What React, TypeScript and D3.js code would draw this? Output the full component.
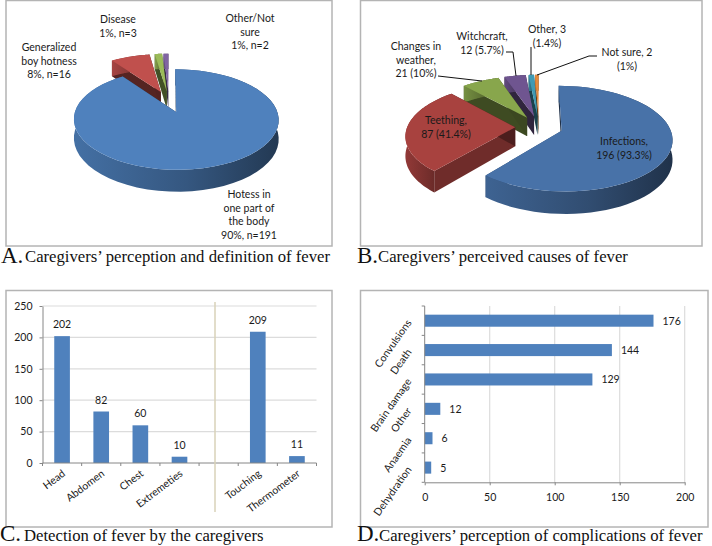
import { useRef, useEffect } from 'react';
import * as d3 from 'd3';

const WIDTH = 712;
const HEIGHT = 546;
const LABEL_FONT = 'Lato, sans-serif';
const LABEL_SIZE = 10.5;
const CAPTION_FONT = '"Liberation Serif", serif';

// Panel A
const definitionValues = [191, 16, 3, 2];
const definitionColors = ['#4f81bd', '#c0504d', '#9bbb59', '#8064a2'];
const definitionLabels = [
  { lines: ['Hotess in', 'one part of', 'the body', '90%, n=191'], x: 249, y: 194 },
  { lines: ['Generalized', 'boy hotness', '8%, n=16'], x: 49, y: 47 },
  { lines: ['Disease', '1%, n=3'], x: 118, y: 19 },
  { lines: ['Other/Not', 'sure', '1%, n=2'], x: 250, y: 18 },
];

// Panel B
const causeValues = [196, 87, 21, 12, 3, 2];
const causeColors = ['#4872a8', '#a8423f', '#88a64c', '#6f5590', '#3f9ab3', '#e48a3c'];
const causeLabels = [
  { lines: ['Infections,', '196 (93.3%)'], x: 624, y: 141 },
  { lines: ['Teething,', '87 (41.4%)'], x: 446, y: 120 },
  { lines: ['Changes in', 'weather,', '21 (10%)'], x: 416, y: 46 },
  { lines: ['Witchcraft,', '12 (5.7%)'], x: 482, y: 36 },
  { lines: ['Other, 3', '(1.4%)'], x: 547, y: 29 },
  { lines: ['Not sure, 2', '(1%)'], x: 627, y: 52 },
];
const causeLeaders = [
  [[438, 76], [482, 81]],
  [[506, 52], [513, 52], [516, 76]],
  [[531, 47], [531, 75]],
  [[597, 56], [589, 56], [537, 75]],
];

// Panel C
const detectionCategories = ['Head', 'Abdomen', 'Chest', 'Extremeties', '', 'Touching', 'Thermometer'];
const detectionValues = [202, 82, 60, 10, null, 209, 11];
const detectionTicks = [0, 50, 100, 150, 200, 250];

// Panel D
const complicationCategories = ['Convulsions', 'Death', 'Brain damage', 'Other', 'Anaemia', 'Dehydration'];
const complicationValues = [176, 144, 129, 12, 6, 5];
const complicationTicks = [0, 50, 100, 150, 200];

const frames = [
  { x: 6, y: 0.5, w: 326, h: 245.5 },
  { x: 360.5, y: 0.5, w: 341.5, h: 245.5 },
  { x: 6, y: 290.5, w: 326, h: 236.5 },
  { x: 360.5, y: 290.5, w: 347.5, h: 236.5 },
];

const captions = [
  { letter: 'A.', text: 'Caregivers’ perception and definition of fever', lx: 1, tx: 25, y: 263 },
  { letter: 'B.', text: 'Caregivers’ perceived causes of fever', lx: 357, tx: 378, y: 263 },
  { letter: 'C.', text: 'Detection of fever by the caregivers', lx: 0, tx: 24, y: 541 },
  { letter: 'D.', text: 'Caregivers’ perception of complications of fever', lx: 357, tx: 379, y: 541 },
];

function drawPie(svg, id, values, colors, geo) {
  const { cx, cy, rx, ry, depth, p, explode } = geo;
  const project = (X, Y, z) => {
    const w = 1 / (1 + p * Y);
    return [cx + X * w * rx, cy - Y * w * ry + z * w * depth];
  };
  const slices = d3.pie().sort(null)(values);
  const line = d3.line();
  const defs = svg.append('defs');

  // back slices first, the big front one on top
  slices.slice().reverse().forEach(s => {
    const i = s.index;
    const mid = (s.startAngle + s.endAngle) / 2;
    const ox = Math.sin(mid) * explode;
    const oy = Math.cos(mid) * explode;
    const rim = (a, z) => project(ox + Math.sin(a), oy + Math.cos(a), z);
    const arcAngles = d3.range(0, 61).map(k => s.startAngle + (s.endAngle - s.startAngle) * k / 60);
    const apex = z => project(ox, oy, z);
    const base = d3.color(colors[i]);

    // cut faces, the ones turned to the viewer are lighter
    [s.startAngle, s.endAngle].forEach(a => {
      svg.append('path')
        .attr('d', line([apex(0), rim(a, 0), rim(a, 1), apex(1)]) + 'Z')
        .attr('fill', base.darker(1.7 + 0.7 * Math.cos(a)).formatHex());
    });

    // outer wall, shaded left to right
    const top = arcAngles.map(a => rim(a, 0));
    const bottom = arcAngles.map(a => rim(a, 1)).reverse();
    const [x0, x1] = d3.extent(top, d => d[0]);
    const gradId = `${id}-wall-${i}`;
    const grad = defs.append('linearGradient').attr('id', gradId)
      .attr('gradientUnits', 'userSpaceOnUse')
      .attr('x1', x0).attr('x2', x1).attr('y1', 0).attr('y2', 0);
    grad.append('stop').attr('offset', 0).attr('stop-color', base.darker(0.4).formatHex());
    grad.append('stop').attr('offset', 0.55).attr('stop-color', base.darker(1.1).formatHex());
    grad.append('stop').attr('offset', 1).attr('stop-color', base.darker(2.3).formatHex());
    svg.append('path')
      .attr('d', line([...top, ...bottom]) + 'Z')
      .attr('fill', `url(#${gradId})`);

    // top face
    svg.append('path')
      .attr('d', line([apex(0), ...top]) + 'Z')
      .attr('fill', colors[i]);
  });
}

function drawLabel(svg, label) {
  const text = svg.append('text')
    .attr('text-anchor', 'middle')
    .attr('font-family', LABEL_FONT)
    .attr('font-size', LABEL_SIZE)
    .attr('fill', '#1a1a1a');
  label.lines.forEach((l, i) => {
    text.append('tspan')
      .attr('x', label.x)
      .attr('y', label.y + 4 + i * 13.6)
      .text(l);
  });
}

function styleAxis(g) {
  g.selectAll('path').attr('stroke', '#868686').attr('stroke-width', 1);
  g.selectAll('line').attr('stroke', '#868686');
  g.selectAll('text')
    .attr('font-family', LABEL_FONT)
    .attr('font-size', LABEL_SIZE)
    .attr('fill', '#1a1a1a');
}

function drawDetection(svg) {
  const x = d3.scaleBand().domain(detectionCategories).range([42.5, 316.5]).paddingInner(0.6).paddingOuter(0.3);
  const y = d3.scaleLinear().domain([0, 250]).range([463, 306]);
  const step = x.step();

  svg.append('g').selectAll('line').data(detectionTicks.slice(1)).join('line')
    .attr('x1', 42.5).attr('x2', 316.5)
    .attr('y1', d => y(d)).attr('y2', d => y(d))
    .attr('stroke', '#dcdcdc').attr('stroke-width', 1.2);

  const rows = detectionCategories
    .map((c, i) => ({ c, v: detectionValues[i] }))
    .filter(d => d.v != null);

  svg.append('g').selectAll('rect').data(rows).join('rect')
    .attr('x', d => x(d.c)).attr('y', d => y(d.v))
    .attr('width', x.bandwidth()).attr('height', d => y(0) - y(d.v))
    .attr('fill', '#4f81bd');

  svg.append('g').selectAll('text').data(rows).join('text')
    .attr('x', d => x(d.c) + x.bandwidth() / 2).attr('y', d => y(d.v) - 8)
    .attr('text-anchor', 'middle')
    .attr('font-family', LABEL_FONT).attr('font-size', LABEL_SIZE).attr('fill', '#1a1a1a')
    .text(d => d.v);

  const yAxis = svg.append('g').attr('transform', 'translate(42.5,0)')
    .call(d3.axisLeft(y).tickValues(detectionTicks).tickSize(3).tickPadding(7).tickSizeOuter(0));
  styleAxis(yAxis);

  // category ticks sit between the bars
  const xAxisLine = svg.append('g');
  xAxisLine.append('line').attr('x1', 42.5).attr('x2', 316.5).attr('y1', 463).attr('y2', 463)
    .attr('stroke', '#868686');
  xAxisLine.selectAll('.tick').data(d3.range(detectionCategories.length + 1)).join('line')
    .attr('class', 'tick')
    .attr('x1', i => 42.5 + i * step).attr('x2', i => 42.5 + i * step)
    .attr('y1', 463).attr('y2', 466)
    .attr('stroke', '#868686');

  svg.append('g').selectAll('text').data(detectionCategories.filter(Boolean)).join('text')
    .attr('transform', d => `translate(${x(d) + x.bandwidth() / 2 + 4},${475}) rotate(-37)`)
    .attr('text-anchor', 'end')
    .attr('font-family', LABEL_FONT).attr('font-size', LABEL_SIZE).attr('fill', '#1a1a1a')
    .text(d => d);

  const divider = 215;
  svg.append('line').attr('x1', divider).attr('x2', divider).attr('y1', 302).attr('y2', 512)
    .attr('stroke', '#d8d2b8').attr('stroke-width', 1.5);
}

function drawComplications(svg) {
  const x = d3.scaleLinear().domain([0, 200]).range([424.7, 684.7]);
  const y = d3.scaleBand().domain(complicationCategories).range([306, 482.3]).paddingInner(0.59).paddingOuter(0.295);
  const step = y.step();

  svg.append('g').selectAll('line').data(complicationTicks.slice(1)).join('line')
    .attr('x1', d => x(d)).attr('x2', d => x(d))
    .attr('y1', 306).attr('y2', 482.3)
    .attr('stroke', '#dcdcdc').attr('stroke-width', 1.2);

  svg.append('g').selectAll('rect').data(complicationValues).join('rect')
    .attr('x', x(0)).attr('y', (d, i) => y(complicationCategories[i]))
    .attr('width', d => x(d) - x(0)).attr('height', y.bandwidth())
    .attr('fill', '#4f81bd');

  svg.append('g').selectAll('text').data(complicationValues).join('text')
    .attr('x', d => x(d) + 9)
    .attr('y', (d, i) => y(complicationCategories[i]) + y.bandwidth() / 2 + 4)
    .attr('font-family', LABEL_FONT).attr('font-size', LABEL_SIZE).attr('fill', '#1a1a1a')
    .text(d => d);

  const xAxis = svg.append('g').attr('transform', 'translate(0,482.3)')
    .call(d3.axisBottom(x).tickValues(complicationTicks).tickSize(3).tickPadding(8).tickSizeOuter(0));
  styleAxis(xAxis);

  const yLine = svg.append('g');
  yLine.append('line').attr('x1', x(0)).attr('x2', x(0)).attr('y1', 306).attr('y2', 482.3)
    .attr('stroke', '#868686');
  yLine.selectAll('.tick').data(d3.range(complicationCategories.length + 1)).join('line')
    .attr('class', 'tick')
    .attr('x1', x(0) - 3).attr('x2', x(0))
    .attr('y1', i => 306 + i * step).attr('y2', i => 306 + i * step)
    .attr('stroke', '#868686');

  svg.append('g').selectAll('text').data(complicationCategories).join('text')
    .attr('transform', d => `translate(${412},${y(d) + y.bandwidth() / 2 + 2}) rotate(-55)`)
    .attr('text-anchor', 'end')
    .attr('font-family', LABEL_FONT).attr('font-size', LABEL_SIZE).attr('fill', '#1a1a1a')
    .text(d => d);
}

export default function App() {
  const svgRef = useRef(null);

  useEffect(() => {
    const svg = d3.select(svgRef.current);
    svg.selectAll('*').remove();

    svg.append('g').selectAll('rect').data(frames).join('rect')
      .attr('x', d => d.x).attr('y', d => d.y)
      .attr('width', d => d.w).attr('height', d => d.h)
      .attr('fill', '#fff').attr('stroke', '#b4b4b4').attr('stroke-width', 1.5);

    drawPie(svg, 'a', definitionValues, definitionColors,
      { cx: 169, cy: 101.6, rx: 98, ry: 46, depth: 18, p: 0.146, explode: 0.23 });
    definitionLabels.forEach(l => drawLabel(svg, l));

    drawPie(svg, 'b', causeValues, causeColors,
      { cx: 539, cy: 127, rx: 108, ry: 50.5, depth: 19, p: 0.146, explode: 0.22 });
    causeLabels.forEach(l => drawLabel(svg, l));
    svg.append('g').selectAll('path').data(causeLeaders).join('path')
      .attr('d', d => d3.line()(d))
      .attr('fill', 'none').attr('stroke', '#111').attr('stroke-width', 1);

    drawDetection(svg);
    drawComplications(svg);

    captions.forEach(c => {
      svg.append('text').attr('x', c.lx).attr('y', c.y)
        .attr('font-family', CAPTION_FONT).attr('font-size', 23).attr('fill', '#111')
        .text(c.letter);
      svg.append('text').attr('x', c.tx).attr('y', c.y - (c.y > 500 ? 0 : 1))
        .attr('font-family', CAPTION_FONT).attr('font-size', 16.7).attr('fill', '#111')
        .text(c.text);
    });
  }, []);

  return <svg ref={svgRef} width={WIDTH} height={HEIGHT} style={{ position: 'absolute', left: 0, top: 0 }} />;
}
